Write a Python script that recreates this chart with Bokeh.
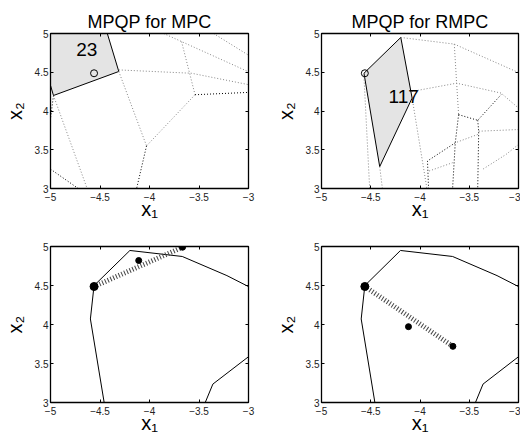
from bokeh.plotting import figure
from bokeh.models import LinearAxis, FixedTicker, CustomJSTickFormatter, Range1d
from bokeh.layouts import column, row
from bokeh.embed import file_html
from bokeh.resources import INLINE
from bokeh.core.properties import value

FONT = "Liberation Sans"

x_ticks = [-5, -4.5, -4, -3.5, -3]
x_tick_labels = ["\u22125", "\u22124.5", "\u22124", "\u22123.5", "\u22123"]
y_ticks = [3, 3.5, 4, 4.5, 5]
y_tick_labels = ["3", "3.5", "4", "4.5", "5"]

titles = ["MPQP for MPC", "MPQP for RMPC"]
x_label = "x\u2081"
y_label = "x\u2082"

# initial state (marked in every panel)
x0 = [-4.56]
y0 = [4.487]

# ---- top-left: MPQP partition for MPC ----
mpc_region_x = [-5.0, -4.426, -4.31, -4.97, -5.0]
mpc_region_y = [5.0, 5.0, 4.51, 4.20, 4.33]
mpc_region_label = ["23"]
mpc_label_x = [-4.633]
mpc_label_y = [4.80]

mpc_gray_xs = [[-4.31, -3.574, -3.0], [-3.857, -3.0], [-3.353, -3.0], [-3.676, -3.54],
               [-3.54, -4.03], [-4.31, -4.03], [-4.97, -4.63]]
mpc_gray_ys = [[4.53, 4.487, 4.34], [5.0, 4.506], [5.0, 4.72], [4.895, 4.21],
               [4.21, 3.55], [4.51, 3.55], [4.20, 3.0]]
mpc_black_xs = [[-3.54, -3.0], [-4.03, -4.13], [-4.97, -5.0], [-5.0, -4.72]]
mpc_black_ys = [[4.21, 4.24], [3.55, 3.0], [4.20, 3.9], [3.25, 3.0]]

# ---- top-right: MPQP partition for RMPC ----
rmpc_region_x = [-4.195, -4.569, -4.409, -4.080]
rmpc_region_y = [4.949, 4.487, 3.282, 4.167]
rmpc_region_label = ["117"]
rmpc_label_x = [-4.165]
rmpc_label_y = [4.19]

rmpc_gray_xs = [[-4.195, -3.652, -3.0], [-3.652, -3.628, -3.608], [-4.083, -3.628, -3.177, -3.0],
                [-3.404, -3.0], [-3.0, -3.126, -3.363], [-4.569, -4.511], [-4.409, -4.382],
                [-4.080, -3.930], [-3.414, -3.642], [-3.907, -3.669]]
rmpc_gray_ys = [[4.949, 4.863, 4.496], [4.863, 4.359, 3.953], [4.252, 4.359, 4.231, 4.038],
                [3.739, 3.761], [3.568, 3.44, 3.248], [4.444, 3.0], [3.282, 3.0],
                [4.167, 3.0], [3.697, 3.590], [3.226, 3.333]]
rmpc_black_xs = [[-3.608, -3.642, -3.669], [-3.608, -3.414, -3.177],
                 [-3.414, -3.404, -3.414], [-3.642, -3.924, -3.913]]
rmpc_black_ys = [[3.953, 3.59, 3.0], [3.953, 3.880, 4.21],
                 [3.880, 3.739, 3.0], [3.59, 3.355, 3.0]]

# ---- bottom: feasible-set boundary and predicted trajectories ----
boundary_x = [-4.458, -4.597, -4.56, -4.198, -3.669, -3.218, -3.0]
boundary_y = [3.0, 4.071, 4.499, 4.949, 4.872, 4.627, 4.486]
boundary2_x = [-3.437, -3.36, -3.0]
boundary2_y = [3.0, 3.236, 3.587]
mpc_traj_x = [-4.109, -3.666]
mpc_traj_y = [4.82, 4.991]
rmpc_traj_x = [-4.117, -3.666]
rmpc_traj_y = [3.972, 3.72]

GRAY = "#858585"
SHADE = "#e4e4e4"


def make_panel(width, height, bl, br, bt, bb, title=None):
    p = figure(width=width, height=height, x_range=Range1d(-5, -3), y_range=Range1d(3, 5),
               x_axis_type=None, y_axis_type=None, output_backend="svg", toolbar_location=None,
               min_border_left=bl, min_border_right=br, min_border_top=bt, min_border_bottom=bb)
    p.outline_line_color = "black"
    p.outline_line_width = 1
    p.background_fill_color = "white"
    p.border_fill_color = "white"
    if title:
        p.title.text = title
        p.title.align = "center"
        p.title.text_font = FONT
        p.title.text_font_size = "18px"
        p.title.text_font_style = "normal"
        p.title.text_color = "black"
        p.title.standoff = 3
    for loc, ticks, labels in [("below", x_ticks, x_tick_labels), ("above", x_ticks, None),
                               ("left", y_ticks, y_tick_labels), ("right", y_ticks, None)]:
        ax = LinearAxis(ticker=FixedTicker(ticks=ticks, minor_ticks=[]))
        ax.major_tick_in = 3
        ax.major_tick_out = 0
        ax.minor_tick_in = 0
        ax.minor_tick_out = 0
        ax.axis_line_color = "black"
        ax.axis_line_width = 1.3
        ax.major_tick_line_color = "black"
        if labels is not None:
            ax.major_label_overrides = dict(zip(ticks, labels))
            ax.major_label_text_font = FONT
            ax.major_label_text_font_size = "10px"
            ax.major_label_text_color = "#222222"
            ax.major_label_standoff = 4 if loc == "below" else 2
            ax.axis_label = x_label if loc == "below" else y_label
            ax.axis_label_text_font = FONT
            ax.axis_label_text_font_size = "20px"
            ax.axis_label_text_font_style = "normal"
            ax.axis_label_text_color = "black"
            ax.axis_label_standoff = -6 if loc == "below" else 6
        else:
            ax.formatter = CustomJSTickFormatter(code="return ''")
            ax.major_label_standoff = 0
            ax.major_label_text_font_size = "1px"
        p.add_layout(ax, loc)
    return p


# top-left
p1 = make_panel(260, 230, 50, 12, 33, 42, titles[0])
p1.patch(mpc_region_x, mpc_region_y, fill_color=SHADE, line_color="black", line_width=1)
p1.multi_line(mpc_gray_xs, mpc_gray_ys, line_color=GRAY, line_dash="1 2", line_width=1)
p1.multi_line(mpc_black_xs, mpc_black_ys, line_color="black", line_dash="1 2", line_width=1)
p1.text(mpc_label_x, mpc_label_y, text=mpc_region_label, text_font=value(FONT),
        text_font_size="19px", text_align="center", text_baseline="middle", text_color="black")
p1.scatter(x0, y0, marker="circle", size=7, fill_color=None, line_color="black", line_width=1)

# top-right
p2 = make_panel(260, 230, 61, 2, 33, 42, titles[1])
p2.patch(rmpc_region_x, rmpc_region_y, fill_color=SHADE, line_color="black", line_width=1)
p2.multi_line(rmpc_gray_xs, rmpc_gray_ys, line_color=GRAY, line_dash="1 2", line_width=1)
p2.multi_line(rmpc_black_xs, rmpc_black_ys, line_color="black", line_dash="1 2", line_width=1)
p2.text(rmpc_label_x, rmpc_label_y, text=rmpc_region_label, text_font=value(FONT),
        text_font_size="19px", text_align="center", text_baseline="middle", text_color="black")
p2.scatter(x0, y0, marker="circle", size=7, fill_color=None, line_color="black", line_width=1)

# bottom-left
p3 = make_panel(260, 214, 50, 12, 16, 42)
p3.line(boundary_x, boundary_y, line_color="black", line_width=1)
p3.line(boundary2_x, boundary2_y, line_color="black", line_width=1)
p3.line(x0 + mpc_traj_x[-1:], y0 + mpc_traj_y[-1:], line_color="#444444", line_width=5, line_dash="1 2")
p3.scatter(mpc_traj_x, mpc_traj_y, marker="circle", size=6, fill_color="black", line_color="black")
p3.scatter(x0, y0, marker="circle", size=8, fill_color="black", line_color="black")

# bottom-right
p4 = make_panel(260, 214, 61, 2, 16, 42)
p4.line(boundary_x, boundary_y, line_color="black", line_width=1)
p4.line(boundary2_x, boundary2_y, line_color="black", line_width=1)
p4.line(x0 + rmpc_traj_x[-1:], y0 + rmpc_traj_y[-1:], line_color="#444444", line_width=5, line_dash="1 2")
p4.scatter(rmpc_traj_x, rmpc_traj_y, marker="circle", size=6, fill_color="black", line_color="black")
p4.scatter(x0, y0, marker="circle", size=8, fill_color="black", line_color="black")

layout = column(row(p1, p2), row(p3, p4))
open("out.html", "w").write(file_html(layout, INLINE))
